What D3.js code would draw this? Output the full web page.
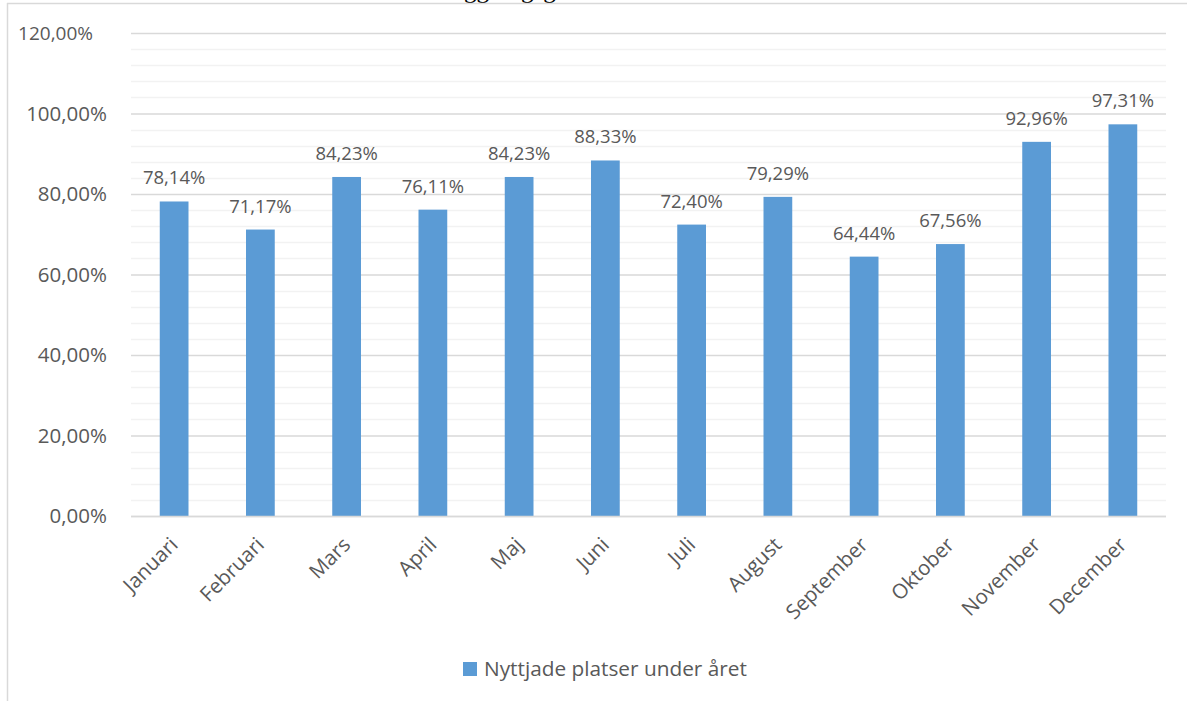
<!DOCTYPE html>
<html>
<head>
<meta charset="utf-8">
<script src="https://cdn.jsdelivr.net/npm/d3@7"></script>
<style>
html,body{margin:0;padding:0;background:#fff;}
svg{display:block;}
text{font-family:"Open Sans",sans-serif;fill:#595959;}
</style>
</head>
<body>
<svg id="chart" width="1187" height="701"></svg>
<script>
const categories = ["Januari","Februari","Mars","April","Maj","Juni","Juli","August","September","Oktober","November","December"];
const values = [78.14, 71.17, 84.23, 76.11, 84.23, 88.33, 72.40, 79.29, 64.44, 67.56, 92.96, 97.31];
const yTicks = [0, 20, 40, 60, 80, 100, 120];
const seriesName = "Nyttjade platser under året";
const titleText = "Beläggningsgrad";

(function(){
const svg = d3.select("#chart");
const W = 1187, H = 701;
const pL = 131, pR = 1166, pT = 33, pB = 516;

// cut-off title
svg.append("text").attr("x",503).attr("y",-2.5).attr("text-anchor","middle")
  .style("font-family","'Liberation Serif',serif").style("font-size","25px").style("fill","#000")
  .text(titleText);

// outer frame (cropped)
svg.append("line").attr("x1",7).attr("x2",W).attr("y1",3.5).attr("y2",3.5).attr("stroke","#d9d9d9").attr("stroke-width",1.5);
svg.append("line").attr("x1",7.5).attr("x2",7.5).attr("y1",3).attr("y2",H).attr("stroke","#d9d9d9").attr("stroke-width",1.5);

const x = d3.scaleBand().domain(categories).range([pL,pR]).paddingInner(2/3).paddingOuter(1/3);
const y = d3.scaleLinear().domain([0,120]).range([pB,pT]);

// minor gridlines
const minor = d3.range(4,120,4).filter(v => v % 20 !== 0);
svg.append("g").selectAll("line").data(minor).join("line")
  .attr("x1",pL).attr("x2",pR)
  .attr("y1",d=>Math.round(y(d))+0.5).attr("y2",d=>Math.round(y(d))+0.5)
  .attr("stroke","#f2f2f2").attr("stroke-width",1.5);

// y axis with major gridlines
const fmt = d => d3.format(".2f")(d).replace(".",",") + "%";
const yAxis = d3.axisLeft(y).tickValues(yTicks).tickSize(-(pR-pL)).tickPadding(24).tickFormat(fmt);
const gy = svg.append("g").attr("transform",`translate(${pL},0)`).call(yAxis);
gy.select(".domain").remove();
gy.selectAll(".tick line").attr("stroke","#d9d9d9").attr("stroke-width",1.5);
gy.selectAll(".tick text").style("font-size","20.5px").style("fill","#595959").style("font-family","'Open Sans',sans-serif");
gy.selectAll(".tick").filter(d => d === 120).select("text").attr("dx",-14).style("font-size","19px");

// bars
svg.append("g").selectAll("rect").data(values).join("rect")
  .attr("x",(d,i)=>x(categories[i]))
  .attr("width",x.bandwidth())
  .attr("y",d=>y(d))
  .attr("height",d=>pB - y(d))
  .attr("fill","#5b9bd5");

// x axis line
svg.append("line").attr("x1",pL).attr("x2",pR).attr("y1",pB+0.5).attr("y2",pB+0.5)
  .attr("stroke","#d9d9d9").attr("stroke-width",1.5);

// data labels
svg.append("g").selectAll("text").data(values).join("text")
  .attr("x",(d,i)=>x(categories[i]) + x.bandwidth()/2)
  .attr("y",d=>y(d) - 17)
  .attr("text-anchor","middle")
  .style("font-size","18.5px")
  .text(fmt);

// x labels rotated
svg.append("g").selectAll("text").data(categories).join("text")
  .attr("transform",d=>`translate(${x(d)+x.bandwidth()/2+5},${pB+30}) rotate(-45)`)
  .attr("text-anchor","end")
  .style("font-size","20.5px")
  .text(d=>d);

// legend
const lg = svg.append("g");
lg.append("rect").attr("x",463).attr("y",662).attr("width",14).attr("height",14).attr("fill","#5b9bd5");
lg.append("text").attr("x",484).attr("y",676).style("font-size","20.8px").text(seriesName);
})();
</script>
</body>
</html>
